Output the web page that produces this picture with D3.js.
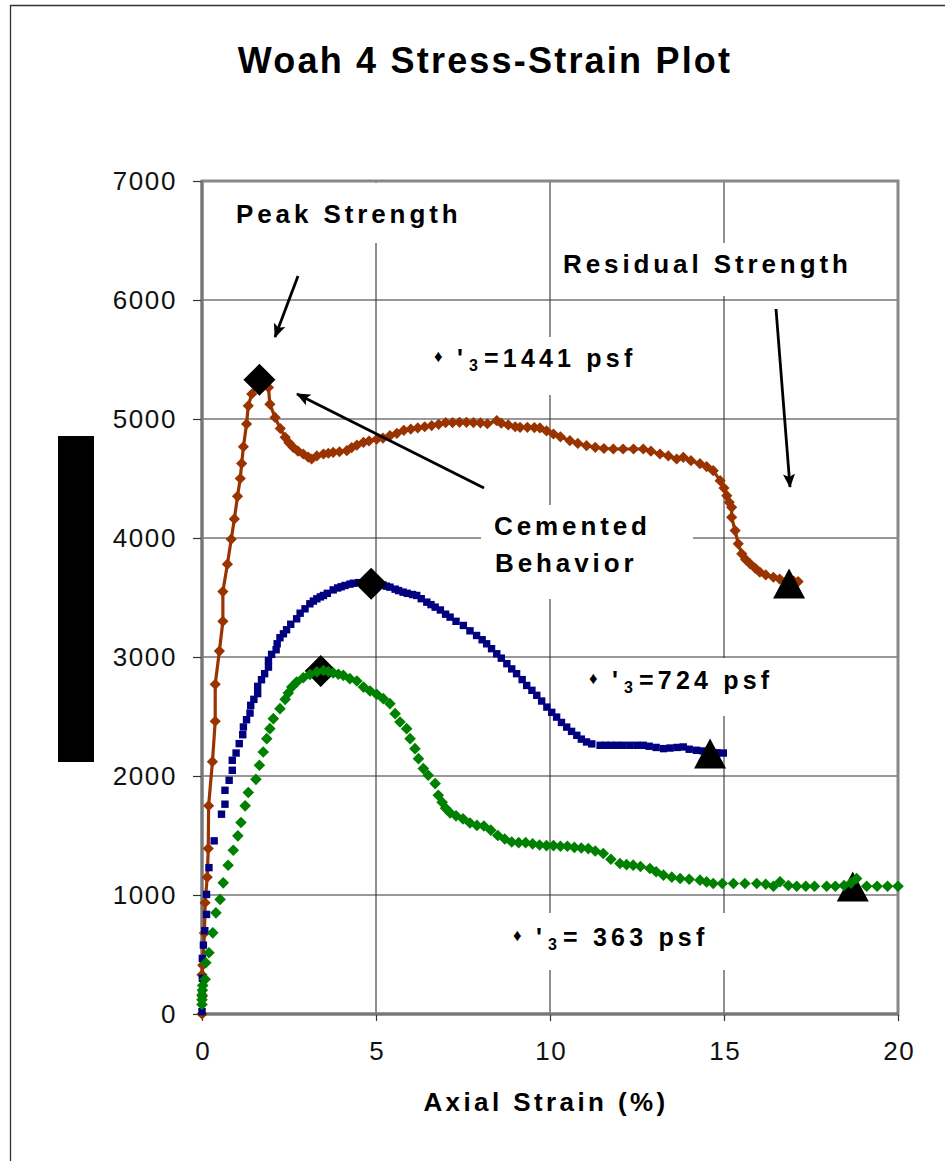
<!DOCTYPE html>
<html><head><meta charset="utf-8">
<script src="https://cdn.jsdelivr.net/npm/d3@7"></script>
<style>body{margin:0;background:#fff}svg{display:block;font-family:"Liberation Sans",Arial,sans-serif}</style>
</head><body>
<svg id="c" width="945" height="1161"></svg>
<script>
const xTicks=[0,5,10,15,20];
const yTicks=[0,1000,2000,3000,4000,5000,6000,7000];
const title="Woah 4 Stress-Strain Plot";
const xTitle="Axial Strain (%)";
// sigma'3 = 1441 psf
const s1441=[[0,0],[0.01,150],[0.0,330],[0.02,410],[0.07,680],[0.09,935],[0.15,1150],[0.18,1390],[0.19,1750],[0.3,2120],[0.38,2460],[0.38,2770],[0.5,3050],[0.6,3300],[0.6,3550],[0.73,3780],[0.84,3990],[0.93,4160],[1.02,4350],[1.1,4500],[1.14,4627],[1.19,4767],[1.28,4958],[1.33,5111],[1.43,5210],[1.6,5300],[1.8,5290],[1.91,5265],[1.95,5125],[2.1,5013],[2.25,4920],[2.39,4846],[2.5,4800],[2.62,4762],[2.76,4730],[2.91,4706],[3.05,4680],[3.15,4664],[3.3,4690],[3.49,4706],[3.63,4712],[3.77,4720],[3.95,4725],[4.16,4734],[4.3,4760],[4.45,4780],[4.64,4804],[4.8,4815],[5.02,4830],[5.2,4840],[5.4,4860],[5.6,4880],[5.8,4905],[6.0,4915],[6.2,4925],[6.4,4935],[6.6,4945],[6.8,4955],[7.0,4970],[7.2,4970],[7.4,4972],[7.6,4972],[7.8,4970],[8.0,4968],[8.2,4960],[8.47,4986],[8.6,4965],[8.8,4950],[9.0,4935],[9.14,4930],[9.35,4930],[9.55,4928],[9.71,4925],[9.9,4900],[10.1,4874],[10.3,4850],[10.57,4818],[10.8,4795],[11.05,4776],[11.3,4762],[11.55,4752],[11.82,4748],[12.1,4748],[12.4,4748],[12.68,4748],[12.9,4730],[13.16,4706],[13.4,4690],[13.64,4664],[13.83,4678],[14.05,4650],[14.31,4625],[14.5,4600],[14.69,4566],[14.89,4482],[15.0,4420],[15.08,4356],[15.15,4300],[15.22,4258],[15.22,4174],[15.32,4062],[15.41,3951],[15.51,3867],[15.62,3820],[15.75,3783],[15.9,3745],[16.03,3713],[16.2,3690],[16.42,3670],[16.6,3655],[16.8,3643],[17.0,3638],[17.13,3634]];
// sigma'3 = 724 psf
const s724=[[0,20],[0.0,150],[0.01,300],[0.01,467],[0.04,579],[0.08,700],[0.13,837],[0.13,1005],[0.2,1230],[0.35,1455],[0.56,1679],[0.66,1763],[0.66,1880],[0.78,1964],[0.87,2048],[0.87,2132],[0.98,2193],[1.07,2272],[1.17,2347],[1.19,2412],[1.28,2473],[1.38,2529],[1.4,2594],[1.49,2644],[1.6,2692],[1.6,2753],[1.71,2809],[1.8,2860],[1.91,2915],[1.91,2971],[2.0,3022],[2.13,3061],[2.16,3111],[2.24,3162],[2.34,3195],[2.43,3229],[2.55,3275],[2.72,3321],[2.82,3368],[2.96,3405],[3.1,3447],[3.2,3470],[3.3,3489],[3.4,3505],[3.49,3517],[3.6,3535],[3.77,3564],[3.9,3580],[4.0,3590],[4.11,3601],[4.25,3612],[4.35,3620],[4.5,3625],[4.7,3628],[4.9,3625],[5.05,3620],[5.2,3605],[5.3,3595],[5.4,3587],[5.55,3570],[5.65,3558],[5.78,3545],[5.9,3535],[6.05,3525],[6.17,3517],[6.3,3490],[6.46,3461],[6.58,3440],[6.7,3419],[6.85,3395],[7.0,3360],[7.13,3335],[7.3,3300],[7.51,3265],[7.7,3220],[7.89,3181],[8.05,3145],[8.18,3111],[8.32,3070],[8.47,3027],[8.6,2990],[8.76,2944],[8.9,2900],[9.04,2860],[9.2,2810],[9.33,2761],[9.48,2720],[9.62,2678],[9.76,2630],[9.91,2579],[10.05,2535],[10.19,2495],[10.33,2450],[10.48,2411],[10.62,2375],[10.77,2342],[10.9,2310],[11.05,2286],[11.2,2270],[11.44,2258],[11.6,2258],[11.75,2258],[11.92,2258],[12.1,2258],[12.3,2258],[12.5,2258],[12.68,2258],[12.85,2250],[13.05,2240],[13.26,2230],[13.45,2235],[13.65,2240],[13.83,2244],[14.0,2225],[14.21,2216],[14.4,2210],[14.6,2200],[14.8,2195],[14.98,2193]];
// sigma'3 = 363 psf
const s363=[[0,80],[0,120],[0,160],[0.01,200],[0.02,240],[0.09,291],[0.11,431],[0.2,515],[0.31,682],[0.4,850],[0.52,963],[0.61,1102],[0.75,1250],[0.9,1376],[1.03,1497],[1.12,1609],[1.24,1749],[1.33,1861],[1.55,1972],[1.65,2090],[1.76,2202],[1.86,2314],[1.95,2398],[2.05,2482],[2.24,2566],[2.39,2644],[2.48,2697],[2.58,2747],[2.72,2789],[2.91,2826],[3.1,2854],[3.3,2875],[3.49,2887],[3.63,2878],[3.77,2865],[3.92,2855],[4.06,2846],[4.25,2818],[4.45,2798],[4.64,2747],[4.83,2714],[5.02,2686],[5.21,2650],[5.4,2608],[5.55,2524],[5.69,2454],[5.88,2398],[5.98,2314],[6.12,2230],[6.22,2146],[6.36,2062],[6.5,2006],[6.7,1936],[6.79,1838],[6.9,1780],[7.0,1730],[7.13,1690],[7.3,1665],[7.5,1640],[7.7,1605],[7.9,1585],[8.1,1580],[8.3,1545],[8.5,1500],[8.7,1470],[8.9,1445],[9.1,1440],[9.3,1440],[9.5,1430],[9.7,1420],[9.9,1415],[10.1,1415],[10.3,1410],[10.5,1410],[10.7,1400],[10.9,1395],[11.1,1390],[11.3,1370],[11.53,1349],[11.75,1300],[12.01,1265],[12.2,1255],[12.39,1251],[12.6,1240],[12.87,1223],[13.05,1195],[13.26,1167],[13.5,1150],[13.74,1139],[14.0,1132],[14.31,1125],[14.5,1110],[14.69,1097],[14.95,1097],[15.27,1097],[15.6,1097],[15.94,1097],[16.2,1090],[16.42,1074],[16.61,1111],[16.85,1080],[17.09,1074],[17.35,1074],[17.6,1074],[17.95,1074],[18.2,1074],[18.45,1080],[18.65,1100],[18.81,1139],[19.1,1074],[19.4,1074],[19.7,1074],[20.0,1074]];
const peakPts=[[1.65,5330],[4.86,3615],[3.41,2882]];
const residPts=[[16.87,3618],[14.6,2190],[18.7,1072]];

const svg=d3.select("#c");
const x=d3.scaleLinear().domain([0,20]).range([202,898]);
const y=d3.scaleLinear().domain([0,7000]).range([1014,181]);

// outer border
svg.append("path").attr("d","M10.5,1161 V5.5 H945").attr("fill","none").attr("stroke","#333").attr("stroke-width",1.3);

// title
svg.append("text").attr("x",485).attr("y",73).attr("text-anchor","middle")
  .attr("font-size",36).attr("font-weight","bold").attr("letter-spacing",2.2).text(title);

// gridlines
const g=svg.append("g");
g.selectAll("line.gx").data(xTicks.slice(1,-1)).join("line")
  .attr("x1",d=>x(d)).attr("x2",d=>x(d)).attr("y1",y(7000)).attr("y2",y(0))
  .attr("stroke","#222").attr("stroke-width",1);
g.selectAll("line.gy").data(yTicks.slice(1,-1)).join("line")
  .attr("x1",x(0)).attr("x2",x(20)).attr("y1",d=>y(d)).attr("y2",d=>y(d))
  .attr("stroke","#333").attr("stroke-width",1.2);

// white label boxes
const boxes=[[230,183,240,60],[555,243,310,53],[425,337,220,58],[481,505,212,94],[580,658,210,58],[505,913,225,57]];
svg.selectAll("rect.box").data(boxes).join("rect")
  .attr("x",d=>d[0]).attr("y",d=>d[1]).attr("width",d=>d[2]).attr("height",d=>d[3]).attr("fill","#fff");

// frame
svg.append("rect").attr("x",x(0)).attr("y",y(7000)).attr("width",x(20)-x(0)).attr("height",y(0)-y(7000))
  .attr("fill","none").attr("stroke","#888").attr("stroke-width",3);
svg.append("path").attr("d",`M${x(0)},${y(7000)}V${y(0)}H${x(20)}`).attr("fill","none").attr("stroke","#777").attr("stroke-width",3);

// axes
const ya=svg.append("g").attr("transform",`translate(${x(0)-1},0)`)
  .call(d3.axisLeft(y).tickValues(yTicks).tickSize(8).tickPadding(16).tickFormat(d3.format("d")));
const xa=svg.append("g").attr("transform",`translate(0,${y(0)+1})`)
  .call(d3.axisBottom(x).tickValues(xTicks).tickSize(6).tickPadding(21).tickFormat(d3.format("d")));
[ya,xa].forEach(a=>{a.select(".domain").remove();
  a.selectAll("line").attr("stroke","#333").attr("stroke-width",1.2);
  a.selectAll("text").attr("font-size",26).attr("font-family","'Liberation Sans',Arial,sans-serif").attr("fill","#111").attr("letter-spacing",1.6);});
xa.selectAll("text").attr("dx",0.8);

// axis titles
svg.append("text").attr("x",546).attr("y",1111).attr("text-anchor","middle")
  .attr("font-size",26).attr("font-weight","bold").attr("letter-spacing",3.4).text(xTitle);
svg.append("rect").attr("x",58).attr("y",436).attr("width",36).attr("height",326).attr("fill","#000");

const dia=r=>`M0,${-r}L${r},0L0,${r}L${-r},0Z`;
const tri=(w,h)=>`M0,${-h/2}L${w/2},${h/2}L${-w/2},${h/2}Z`;

// brown series
svg.append("path").datum(s1441).attr("d",d3.line().x(d=>x(d[0])).y(d=>y(d[1])))
  .attr("fill","none").attr("stroke","#993300").attr("stroke-width",3.2).attr("stroke-linejoin","round");
svg.append("g").selectAll("path").data(s1441).join("path")
  .attr("transform",d=>`translate(${x(d[0])},${y(d[1])})`).attr("d",dia(5.6)).attr("fill","#993300");
// blue series
svg.append("g").selectAll("rect").data(s724).join("rect")
  .attr("x",d=>x(d[0])-3.7).attr("y",d=>y(d[1])-3.7).attr("width",7.4).attr("height",7.4).attr("fill","#000080");
// black markers
svg.append("g").selectAll("path").data(peakPts).join("path")
  .attr("transform",d=>`translate(${x(d[0])},${y(d[1])})`).attr("d",dia(16)).attr("fill","#000");
svg.append("g").selectAll("path").data(residPts).join("path")
  .attr("transform",d=>`translate(${x(d[0])},${y(d[1])})`).attr("d",tri(32,30)).attr("fill","#000");
// green series
svg.append("g").selectAll("path").data(s363).join("path")
  .attr("transform",d=>`translate(${x(d[0])},${y(d[1])})`).attr("d",dia(5.8)).attr("fill","#008000");

// arrows
svg.append("defs").append("marker").attr("id","ah").attr("viewBox","0 -6 14 12").attr("refX",13).attr("refY",0)
  .attr("markerWidth",14).attr("markerHeight",12).attr("markerUnits","userSpaceOnUse").attr("orient","auto")
  .append("path").attr("d","M0,-6L14,0L0,6L3,0Z").attr("fill","#000");
const arrows=[[298,276,275,337],[484,488,297,394],[776,309,790,487]];
svg.selectAll("line.arr").data(arrows).join("line")
  .attr("x1",d=>d[0]).attr("y1",d=>d[1]).attr("x2",d=>d[2]).attr("y2",d=>d[3])
  .attr("stroke","#000").attr("stroke-width",2.8).attr("marker-end","url(#ah)");

// annotations
const ann=(t,xx,yy)=>svg.append("text").attr("x",xx).attr("y",yy).attr("font-size",26).attr("font-weight","bold").attr("letter-spacing",3.9).text(t);
ann("Peak Strength",236,223);
ann("Residual Strength",563,273);
ann("Cemented",494,535);
ann("Behavior",495,572);

function sig(x0,base,rest,ls){
  svg.append("text").attr("x",x0).attr("y",base-5).attr("font-size",17).text("♦");
  svg.append("text").attr("x",x0+23).attr("y",base).attr("font-size",25).attr("font-weight","bold").text("'");
  svg.append("text").attr("x",x0+35).attr("y",base+4).attr("font-size",16).attr("font-weight","bold").text("3");
  svg.append("text").attr("x",x0+50).attr("y",base).attr("font-size",25).attr("font-weight","bold").attr("letter-spacing",ls).text(rest);
}
sig(434,367,"=1441 psf",4.2);
sig(589,689,"=724 psf",4.2);
sig(513,946,"= 363 psf",4.2);
</script>
</body></html>
